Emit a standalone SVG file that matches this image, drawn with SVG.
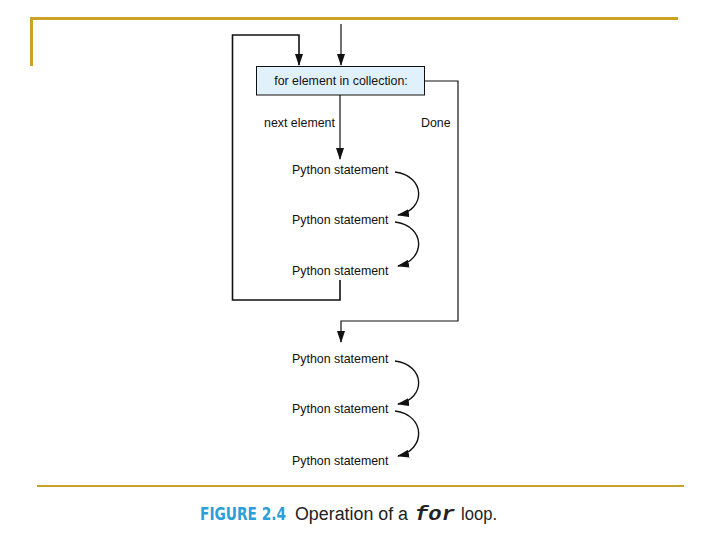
<svg xmlns="http://www.w3.org/2000/svg" width="720" height="540" viewBox="0 0 720 540">
<defs>
<marker id="ah" markerWidth="12" markerHeight="8" refX="11" refY="4" orient="auto" markerUnits="userSpaceOnUse" viewBox="0 0 12 8">
<path d="M0,0 L12,4 L0,8 Z" fill="#111"/>
</marker>
<marker id="ch" markerWidth="12" markerHeight="8" refX="11" refY="4" orient="auto" markerUnits="userSpaceOnUse" viewBox="0 0 12 8">
<path d="M0,0 L12,4 L0,8 Z" fill="#111"/>
</marker>
</defs>
<style>
.lbl{font-family:"Liberation Sans",Arial,sans-serif;font-size:12.4px;fill:#111}
.ln{fill:none;stroke:#111;stroke-width:1.6}
.thin{fill:none;stroke:#111;stroke-width:1.2}
.curve{fill:none;stroke:#111;stroke-width:1.4}
.gold{fill:none;stroke:#c9a227}
</style>
<rect width="720" height="540" fill="#fff"/>
<g id="frame">
<path class="gold" d="M30,18.5 H678 M31.5,17 V66" stroke-width="3"/>
<path class="gold" d="M37,486 H684" stroke-width="2"/>
</g>
<g id="connectors">
<path class="thin" d="M341,24 V65" marker-end="url(#ah)"/>
<path class="ln" d="M340,280 V300 H232.5 V35 H299 V65" marker-end="url(#ah)"/>
<path class="thin" d="M340,95 V159" marker-end="url(#ah)"/>
<path class="thin" d="M425,81 H458 V321 H341 V342" marker-end="url(#ah)"/>
<path class="curve" d="M395,172 C426,176 426,210 398,215" marker-end="url(#ch)"/>
<path class="curve" d="M395,222 C426,226 426,260 398,266" marker-end="url(#ch)"/>
<path class="curve" d="M395,361 C426,365 426,399 398,404" marker-end="url(#ch)"/>
<path class="curve" d="M395,411 C426,415 426,450 398,456" marker-end="url(#ch)"/>
</g>
<g id="loop-header">
<rect x="256.5" y="66.5" width="168" height="28.5" fill="#e1f1fb" stroke="#111" stroke-width="1"/>
<text class="lbl" x="341" y="85" text-anchor="middle">for element in collection:</text>
</g>
<g id="labels">
<text class="lbl" x="264" y="127">next element</text>
<text class="lbl" x="421" y="127">Done</text>
</g>
<g id="body">
<text class="lbl" x="292" y="174">Python statement</text>
<text class="lbl" x="292" y="224">Python statement</text>
<text class="lbl" x="292" y="275">Python statement</text>
</g>
<g id="after">
<text class="lbl" x="292" y="363">Python statement</text>
<text class="lbl" x="292" y="413">Python statement</text>
<text class="lbl" x="292" y="465">Python statement</text>
</g>
<g id="caption">
<text x="200" y="520" font-family="'Liberation Sans Narrow','DejaVu Sans Condensed',sans-serif" font-weight="bold" font-size="17" fill="#2b9fd8" textLength="86" lengthAdjust="spacingAndGlyphs">FIGURE 2.4</text>
<text x="295" y="520" font-family="'Liberation Sans',Arial,sans-serif" font-size="18" fill="#222" textLength="113" lengthAdjust="spacingAndGlyphs">Operation of a</text>
<text x="415" y="520" font-family="'Liberation Mono','Courier New',monospace" font-weight="bold" font-style="italic" font-size="20" fill="#222" textLength="40" lengthAdjust="spacingAndGlyphs">for</text>
<text x="461" y="520" font-family="'Liberation Sans',Arial,sans-serif" font-size="18" fill="#222" textLength="36" lengthAdjust="spacingAndGlyphs">loop.</text>
</g>
</svg>
